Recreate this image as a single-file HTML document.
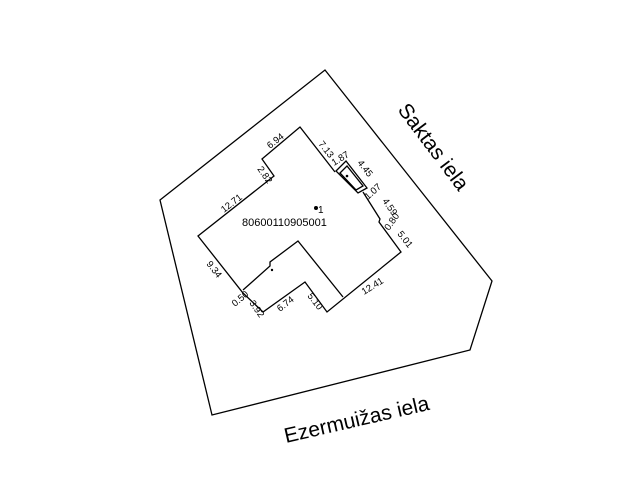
<!DOCTYPE html>
<html><head><meta charset="utf-8"><style>
html,body{margin:0;padding:0;background:#fff;width:643px;height:490px;overflow:hidden}
svg{display:block}
text{font-family:"Liberation Sans",sans-serif;fill:#000}
</style></head><body>
<svg width="643" height="490" viewBox="0 0 643 490">
<g fill="none" stroke="#000" stroke-width="1.3">
<polygon points="160,200 325,70 492,281 470,350 212,415"/>
<polyline points="363,192 380,219 379,222 401,252 327,312 305,282 263,312 243,293 198,236 274,176 262,159 300,127 335,172"/>
<polygon points="336,171 346,161 367,188 358,193"/>
<polygon points="340,173 347,166 363,186 356,190"/>
<polyline points="343,297 298,241 270,262 270,266 243,290"/>
</g>
<circle cx="316" cy="208" r="2" fill="#000"/>
<circle cx="347" cy="176" r="1.3" fill="#000"/>
<circle cx="272" cy="270" r="1.2" fill="#000"/>
<text x="242" y="226" font-size="11">80600110905001</text>
<text x="318" y="213" font-size="10">1</text>
<g font-size="9.5">
<text transform="translate(270,149) rotate(-38)">6.94</text>
<text transform="translate(318,144) rotate(52)">7.13</text>
<text transform="translate(257,169) rotate(55)">2.82</text>
<text transform="translate(224,213) rotate(-38)">12.71</text>
<text transform="translate(334,166) rotate(-32)">1.87</text>
<text transform="translate(357,163) rotate(52)">4.45</text>
<text transform="translate(368,200) rotate(-42)">1.07</text>
<text transform="translate(382,201) rotate(55)">4.59</text>
<text transform="translate(389,231) rotate(-55)">0.80</text>
<text transform="translate(397,234) rotate(52)">5.01</text>
<text transform="translate(364,295) rotate(-32)">12.41</text>
<text transform="translate(206,264) rotate(52)">9.34</text>
<text transform="translate(235,307) rotate(-40)">0.50</text>
<text transform="translate(249,303) rotate(55)">3.92</text>
<text transform="translate(280,312) rotate(-38)">6.74</text>
<text transform="translate(307,296) rotate(52)">5.10</text>
</g>
<text transform="translate(286,443) rotate(-13)" font-size="21">Ezermuižas iela</text>
<text transform="translate(397,110) rotate(53)" font-size="21">Saktas iela</text>
</svg>
</body></html>
